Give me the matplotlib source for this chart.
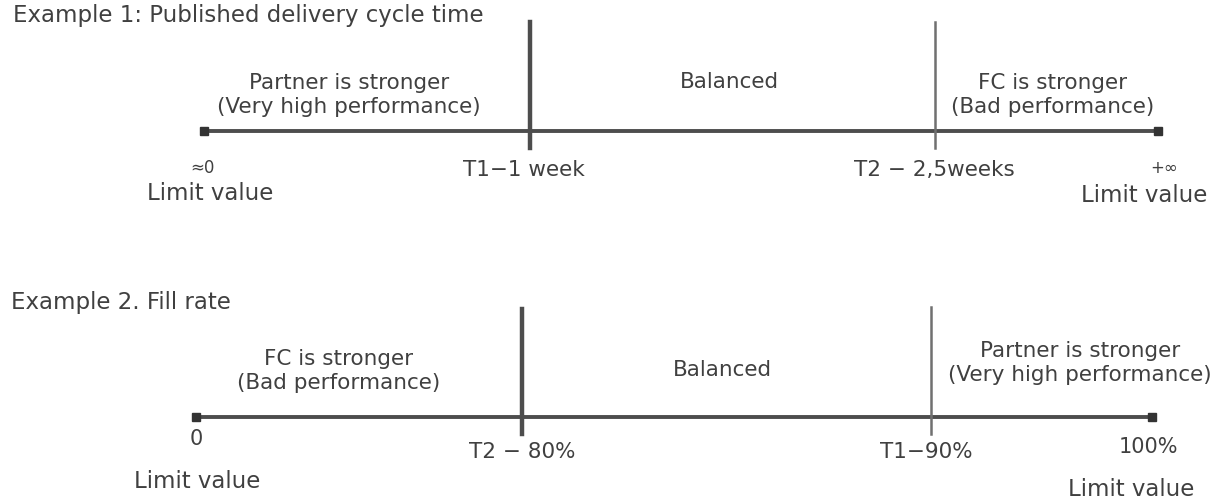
import matplotlib.pyplot as plt

# two threshold diagrams, positions along the horizontal scale (pixel units of the canvas)
titles = ["Example 1: Published delivery cycle time", "Example 2. Fill rate"]
title_xy = [(13, 15), (11, 303)]
axis_y = [131, 417]
axis_ends = [[204, 1158], [196, 1152]]
threshold_x = [[530, 935], [522, 931]]
threshold_top = [[22, 22], [309, 307]]
threshold_bottom = [148, 434]
threshold_labels = [["T1\u22121 week", "T2 \u2212 2,5weeks"], ["T2 \u2212 80%", "T1\u221290%"]]
threshold_label_x = [[524, 934], [522, 926]]
threshold_label_y = [170, 452]
end_labels = [["\u22480", "+\u221e"], ["0", "100%"]]
end_label_xy = [[(202, 168), (1164, 168)], [(196, 439), (1148, 447)]]
limit_xy = [[(210, 193), (1144, 195)], [(197, 482), (1131, 490)]]
zone_labels = [
    ["Partner is stronger\n(Very high performance)", "Balanced", "FC is stronger\n(Bad performance)"],
    ["FC is stronger\n(Bad performance)", "Balanced", "Partner is stronger\n(Very high performance)"],
]
zone_x = [[349, 729, 1053], [339, 722, 1080]]
zone_y = [[95, 82, 95], [371, 370, 363]]

fig = plt.figure(figsize=(12.24, 5.03), dpi=100)
ax = fig.add_axes([0, 0, 1, 1])
ax.set_xlim(0, 1224)
ax.set_ylim(503, 0)
ax.axis('off')

line_col = '#4d4d4d'
txt_col = '#404040'

for i in range(2):
    y = axis_y[i]
    x0, x1 = axis_ends[i]
    ax.plot([x0, x1], [y, y], color=line_col, lw=2.8, solid_capstyle='butt')
    ax.plot([x0, x1], [y, y], 's', color='#333333', ms=6)

    # first threshold drawn is the dark heavy one, the second is lighter
    for j, tx in enumerate(threshold_x[i]):
        lw = 3.2 if j == 0 else 1.8
        col = line_col if j == 0 else '#707070'
        ax.plot([tx, tx], [threshold_top[i][j], threshold_bottom[i]], color=col, lw=lw)

    ax.text(title_xy[i][0], title_xy[i][1], titles[i], fontsize=16.5, color=txt_col,
            va='center', ha='left')

    for j, lab in enumerate(zone_labels[i]):
        ax.text(zone_x[i][j], zone_y[i][j], lab, fontsize=15.5, color=txt_col,
                ha='center', va='center', linespacing=1.2)

    for j, lab in enumerate(threshold_labels[i]):
        ax.text(threshold_label_x[i][j], threshold_label_y[i], lab, fontsize=15.5,
                color=txt_col, ha='center', va='center')

    for j, lab in enumerate(end_labels[i]):
        fs = 12 if i == 0 else 15
        ex, ey = end_label_xy[i][j]
        ax.text(ex, ey, lab, fontsize=fs, color=txt_col, ha='center', va='center')
        lx, ly = limit_xy[i][j]
        ax.text(lx, ly, "Limit value", fontsize=16.5, color=txt_col,
                ha='center', va='center')

plt.savefig('out.png', dpi=100)
